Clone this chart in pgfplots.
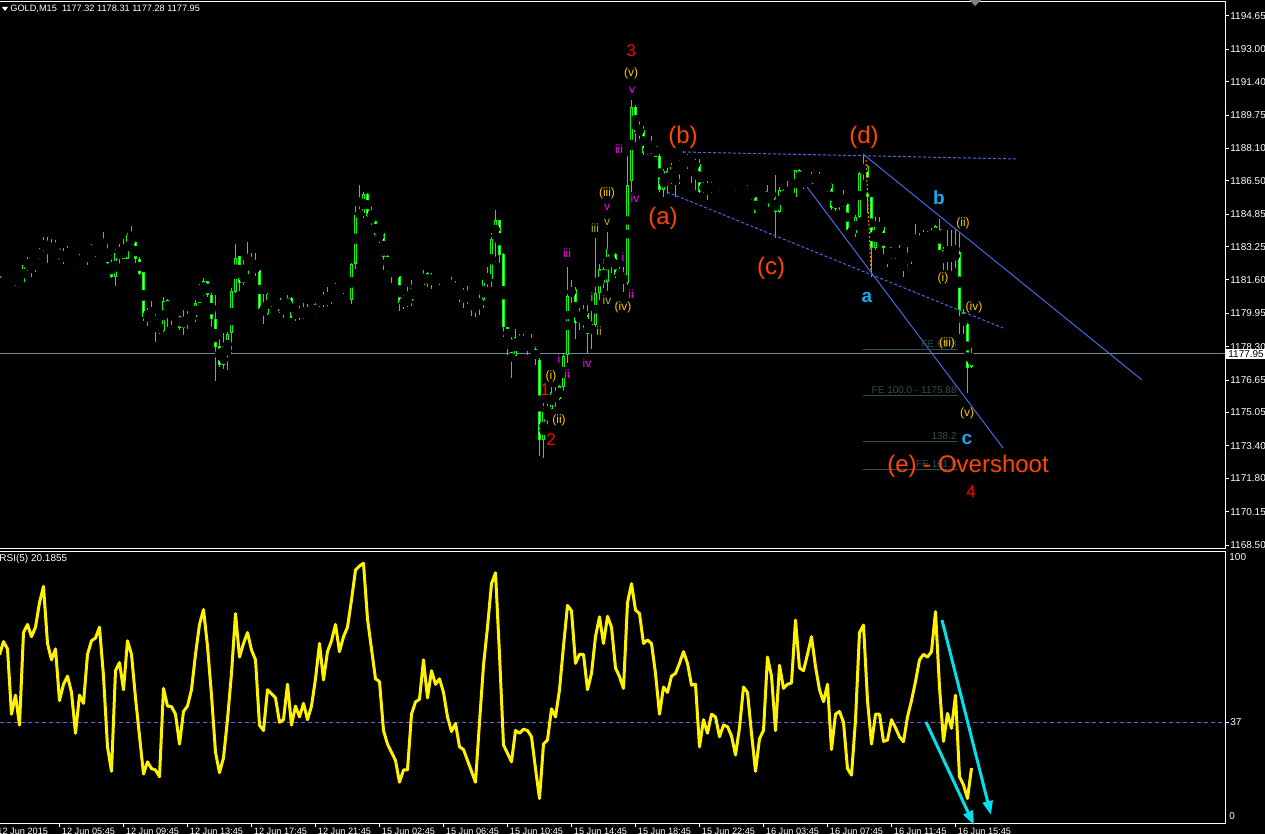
\documentclass[border=0pt]{standalone}
\usepackage{pgfplots}
\pgfplotsset{compat=1.18}
\usepackage{pgfplotstable}
\usepackage{fontspec}
\setmainfont{Liberation Sans}
\usetikzlibrary{arrows.meta}

\definecolor{barlime}{RGB}{0,255,0}
\definecolor{ored}{RGB}{255,69,0}
\definecolor{wgold}{RGB}{255,200,0}
\definecolor{wmag}{RGB}{255,0,255}
\definecolor{wolive}{RGB}{175,175,45}
\definecolor{wcyan}{RGB}{20,170,240}
\definecolor{tline}{RGB}{70,105,230}
\definecolor{fegray}{RGB}{47,79,79}
\definecolor{pline}{RGB}{119,136,153}
\definecolor{rsidash}{RGB}{110,90,230}
\definecolor{arrowc}{RGB}{0,225,235}

% GOLD M15 bars: index, open, high, low, close
\pgfplotstableread{
k o h l c
1 1181.68 1182.00 1181.62 1181.93
2 1181.85 1182.13 1181.80 1182.05
3 1182.02 1182.10 1181.90 1182.00
4 1182.05 1182.10 1181.57 1181.60
5 1181.62 1181.80 1181.30 1181.77
6 1181.68 1181.73 1181.27 1181.47
7 1181.52 1182.34 1181.44 1182.33
8 1182.30 1182.72 1182.06 1182.52
9 1182.52 1182.56 1181.77 1182.41
10 1182.41 1182.79 1182.01 1182.72
11 1182.70 1183.22 1182.62 1183.13
12 1183.09 1183.74 1183.00 1183.53
13 1183.53 1183.74 1182.46 1183.12
14 1183.09 1183.63 1182.84 1182.95
15 1182.95 1183.58 1182.92 1183.12
16 1183.13 1183.22 1182.59 1182.64
17 1182.62 1183.17 1182.39 1182.82
18 1182.82 1183.28 1182.67 1182.94
19 1182.92 1182.95 1182.56 1182.71
20 1182.79 1182.84 1182.34 1182.36
21 1182.36 1182.89 1182.34 1182.72
22 1182.64 1182.72 1182.46 1182.56
23 1182.61 1183.09 1182.34 1182.92
24 1182.95 1183.38 1182.84 1183.13
25 1183.12 1183.28 1182.72 1183.20
26 1183.15 1183.33 1182.92 1183.28
27 1183.26 1183.99 1182.92 1182.95
28 1182.97 1183.38 1182.38 1182.47
29 1182.47 1182.84 1181.72 1181.73
30 1181.73 1183.17 1181.30 1182.94
31 1182.86 1183.38 1182.34 1183.17
32 1183.20 1183.63 1182.66 1182.66
33 1182.66 1183.94 1182.66 1183.81
34 1183.76 1184.29 1183.28 1183.45
35 1183.48 1183.51 1182.46 1182.66
36 1182.67 1182.72 1181.85 1181.91
37 1181.98 1182.01 1179.59 1179.79
38 1179.79 1180.20 1179.33 1180.00
39 1179.99 1180.56 1179.54 1179.54
40 1179.56 1179.95 1178.55 1179.53
41 1179.41 1179.49 1178.93 1179.10
42 1179.10 1180.78 1179.05 1180.56
43 1180.61 1180.68 1179.29 1180.07
44 1180.12 1180.25 1179.38 1180.04
45 1180.05 1180.20 1179.79 1179.84
46 1179.85 1179.92 1179.16 1179.24
47 1179.24 1180.15 1178.88 1179.72
48 1179.74 1180.07 1179.16 1179.69
49 1179.69 1179.95 1179.46 1179.87
50 1179.79 1180.65 1179.54 1180.45
51 1180.48 1181.39 1180.45 1180.99
52 1180.99 1181.68 1180.66 1181.55
53 1181.54 1181.55 1180.78 1180.86
54 1180.86 1180.94 1179.29 1179.66
55 1179.66 1180.86 1176.62 1178.27
56 1178.34 1178.68 1177.32 1177.43
57 1177.43 1178.98 1177.20 1177.93
58 1177.93 1179.03 1177.15 1178.93
59 1178.96 1181.19 1177.94 1181.04
60 1181.04 1183.38 1180.94 1182.72
61 1182.79 1182.79 1181.07 1181.47
62 1181.47 1182.59 1181.35 1181.93
63 1181.90 1183.48 1181.90 1182.69
64 1182.69 1182.94 1182.10 1182.26
65 1182.28 1182.94 1181.80 1182.06
66 1182.10 1182.13 1180.12 1180.18
67 1180.22 1180.91 1179.43 1179.92
68 1179.92 1180.98 1179.87 1180.91
69 1180.86 1180.98 1180.28 1180.78
70 1180.78 1180.91 1180.45 1180.61
71 1180.70 1180.78 1179.95 1180.09
72 1180.09 1180.48 1179.74 1180.18
73 1180.18 1180.86 1180.12 1180.71
74 1180.71 1180.75 1179.72 1179.76
75 1179.87 1180.20 1179.59 1180.12
76 1180.10 1180.32 1179.62 1179.84
77 1179.84 1180.45 1179.67 1180.05
78 1180.07 1180.41 1179.69 1179.72
79 1179.74 1180.04 1179.59 1179.92
80 1179.92 1180.45 1179.87 1180.40
81 1180.40 1180.81 1180.28 1180.81
82 1180.81 1181.01 1180.28 1180.40
83 1180.37 1181.27 1180.32 1180.81
84 1180.81 1181.24 1180.45 1180.99
85 1180.99 1181.44 1180.91 1181.35
86 1181.32 1181.35 1180.91 1181.11
87 1181.11 1181.44 1180.94 1181.35
88 1181.30 1181.60 1181.27 1181.52
89 1180.64 1182.46 1180.41 1182.42
90 1182.42 1185.26 1182.13 1184.81
91 1184.85 1186.30 1184.65 1184.90
92 1184.90 1185.97 1184.65 1185.88
93 1185.88 1185.92 1184.73 1184.78
94 1184.81 1185.36 1184.32 1184.48
95 1184.52 1184.57 1183.71 1183.82
96 1183.90 1183.99 1183.45 1183.94
97 1183.91 1183.94 1182.09 1182.75
98 1182.79 1182.84 1181.96 1182.26
99 1182.29 1182.46 1181.47 1182.01
100 1182.01 1182.18 1181.63 1181.73
101 1181.80 1181.85 1180.08 1180.45
102 1180.41 1180.86 1180.15 1180.61
103 1180.45 1181.27 1180.28 1180.64
104 1180.58 1181.63 1180.33 1181.19
105 1181.14 1181.52 1181.07 1181.40
106 1181.40 1181.52 1181.27 1181.32
107 1181.35 1182.13 1181.30 1181.93
108 1181.93 1182.01 1181.27 1181.40
109 1181.44 1181.96 1181.19 1181.85
110 1181.85 1181.93 1181.57 1181.63
111 1181.66 1181.93 1181.38 1181.76
112 1181.76 1181.85 1181.44 1181.57
113 1181.63 1181.73 1181.27 1181.35
114 1181.40 1181.73 1181.07 1181.14
115 1181.14 1181.57 1180.86 1181.24
116 1181.19 1181.30 1180.53 1180.86
117 1180.86 1181.19 1180.20 1180.91
118 1180.94 1181.30 1180.45 1180.74
119 1180.74 1180.86 1179.82 1180.45
120 1180.48 1180.64 1179.79 1180.33
121 1180.28 1181.11 1179.87 1180.64
122 1180.64 1181.68 1180.20 1181.60
123 1181.60 1182.23 1181.24 1181.63
124 1181.68 1183.91 1181.24 1183.66
125 1183.66 1185.06 1182.51 1184.57
126 1184.57 1184.60 1182.46 1182.84
127 1182.87 1182.92 1178.80 1179.29
128 1179.26 1179.29 1177.89 1178.67
129 1178.67 1178.80 1176.79 1177.89
130 1177.84 1179.21 1177.84 1178.76
131 1178.76 1178.93 1178.34 1178.50
132 1178.50 1178.96 1178.31 1178.67
133 1178.68 1178.76 1177.89 1178.58
134 1178.60 1178.93 1178.14 1178.17
135 1178.17 1178.44 1177.40 1177.68
136 1177.68 1177.73 1172.90 1173.69
137 1173.69 1175.50 1172.80 1175.09
138 1175.09 1175.47 1174.27 1175.21
139 1175.21 1176.33 1175.14 1176.08
140 1176.08 1176.33 1175.34 1175.70
141 1175.70 1176.41 1175.67 1176.36
142 1176.33 1177.97 1176.00 1177.84
143 1177.89 1182.23 1177.48 1180.81
144 1180.81 1181.63 1180.45 1181.19
145 1181.14 1181.27 1178.67 1179.46
146 1179.46 1180.36 1179.13 1179.92
147 1179.92 1180.36 1179.13 1179.98
148 1179.98 1180.36 1178.01 1178.96
149 1178.93 1180.12 1178.17 1179.42
150 1179.37 1183.71 1179.29 1180.97
151 1180.94 1182.39 1180.61 1182.13
152 1182.13 1182.62 1181.19 1181.47
153 1181.52 1183.99 1181.07 1183.16
154 1183.16 1183.28 1181.93 1182.95
155 1182.92 1182.95 1181.73 1181.85
156 1181.85 1182.26 1181.60 1181.90
157 1181.88 1182.26 1181.02 1181.44
158 1181.44 1187.73 1181.35 1186.30
159 1186.51 1190.50 1185.97 1190.14
160 1190.14 1190.25 1188.22 1188.93
161 1188.93 1189.54 1188.52 1189.01
162 1189.01 1189.21 1187.78 1187.89
163 1187.89 1188.27 1187.78 1188.22
164 1188.22 1188.72 1187.83 1188.24
165 1188.22 1188.32 1187.66 1187.70
166 1187.73 1187.86 1185.97 1186.05
167 1186.05 1187.07 1185.72 1186.99
168 1186.99 1187.12 1185.85 1186.41
169 1186.41 1187.37 1186.35 1187.20
170 1187.20 1187.33 1185.69 1187.17
171 1187.12 1187.73 1186.38 1187.45
172 1187.40 1187.99 1187.37 1187.83
173 1187.78 1187.86 1187.12 1187.37
174 1187.37 1187.56 1186.38 1187.20
175 1187.20 1187.61 1186.04 1187.40
176 1187.33 1187.61 1185.92 1185.97
177 1185.97 1186.46 1185.92 1186.35
178 1186.35 1186.51 1185.55 1185.97
179 1185.97 1186.46 1185.92 1186.35
180 1186.30 1186.38 1186.05 1186.21
181 1185.92 1186.05 1185.59 1185.64
182 1185.85 1186.13 1185.75 1186.05
183 1185.97 1186.08 1185.80 1185.85
184 1185.85 1186.08 1185.80 1186.05
185 1185.80 1186.04 1185.52 1185.55
186 1185.59 1185.80 1185.47 1185.75
187 1185.72 1186.05 1185.64 1186.00
188 1186.00 1186.30 1185.80 1185.92
189 1185.97 1186.05 1185.59 1185.69
190 1185.69 1185.72 1184.90 1184.93
191 1184.93 1185.31 1184.90 1185.19
192 1185.19 1185.31 1185.14 1185.24
193 1185.22 1186.30 1185.19 1185.97
194 1185.97 1186.08 1185.64 1185.69
195 1185.72 1186.79 1183.71 1184.98
196 1184.98 1186.21 1184.93 1186.08
197 1186.05 1186.13 1185.47 1185.55
198 1185.59 1186.49 1185.52 1185.69
199 1185.69 1185.97 1185.55 1185.59
200 1185.69 1187.07 1185.64 1187.04
201 1187.04 1187.12 1186.35 1186.46
202 1186.46 1186.67 1186.13 1186.38
203 1186.35 1186.57 1186.21 1186.51
204 1186.38 1186.95 1186.30 1186.87
205 1186.87 1186.95 1186.54 1186.63
206 1186.63 1186.95 1186.30 1186.35
207 1186.38 1186.54 1186.05 1186.18
208 1186.18 1186.41 1185.97 1186.38
209 1186.35 1186.41 1185.06 1185.14
210 1185.14 1185.75 1185.03 1185.64
211 1185.64 1185.75 1185.09 1185.69
212 1185.64 1186.04 1185.19 1185.31
213 1185.36 1185.39 1184.04 1184.07
214 1184.07 1184.24 1183.82 1183.91
215 1183.91 1184.81 1183.74 1184.70
216 1184.70 1186.95 1184.65 1186.87
217 1186.87 1187.78 1186.46 1187.23
218 1187.23 1187.28 1184.90 1185.69
219 1185.69 1185.72 1181.76 1183.17
220 1183.17 1184.70 1183.08 1184.20
221 1184.20 1184.70 1183.82 1184.07
222 1184.24 1184.27 1182.75 1183.17
223 1182.80 1182.95 1182.26 1182.75
224 1182.75 1183.25 1182.59 1183.22
225 1183.22 1183.25 1182.67 1182.92
226 1182.92 1183.33 1182.59 1182.62
227 1182.62 1182.79 1181.76 1182.42
228 1182.46 1183.22 1182.18 1182.75
229 1182.75 1183.08 1182.42 1183.00
230 1183.00 1184.37 1182.92 1183.33
231 1183.28 1183.94 1183.08 1183.58
232 1183.58 1184.10 1183.41 1183.69
233 1183.69 1184.04 1183.49 1183.61
234 1183.61 1184.15 1183.41 1183.71
235 1183.66 1184.32 1183.58 1184.27
236 1184.15 1184.65 1183.08 1183.12
237 1183.08 1183.22 1182.09 1182.51
238 1182.51 1184.07 1182.09 1182.92
239 1182.92 1184.07 1182.06 1182.55
240 1182.59 1184.07 1182.18 1183.00
241 1183.00 1183.91 1178.96 1180.12
242 1180.03 1180.15 1178.96 1179.42
243 1179.42 1179.62 1176.03 1177.28
244 1177.32 1178.31 1177.28 1177.95
}\candles

% RSI(5) per bar
\pgfplotstableread{
k r
1 61.8
2 66.7
3 64
4 40
5 47
6 36
7 70
8 73
9 68.5
10 72
11 81
12 87
13 66
14 60
15 64
16 45
17 51
18 54
19 48
20 33
21 47
22 44
23 62
24 67
25 68
26 72
27 54
28 28
29 19
30 56
31 59
32 49
33 67
34 62
35 46
36 32
37 18
38 22.5
39 20
40 19.5
41 17
42 49.5
43 43
44 42.8
45 40
46 29
47 41
48 43
49 49
50 62
51 73
52 78.5
53 65
54 47
55 26
56 18.5
57 24
58 38
59 55
60 77
61 61
62 66
63 70
64 63.6
65 60
66 36
67 34
68 49
69 47.5
70 46
71 37
72 38
73 51
74 36
75 43
76 39
77 44
78 38
79 43
80 53
81 66
82 52.6
83 63
84 67
85 73
86 63
87 68.5
88 72
89 82
90 93
91 94.5
92 95.5
93 75
94 64
95 53
96 52
97 34
98 29
99 26
100 23
101 15
102 19.5
103 19.5
104 40
105 44.5
106 45.5
107 60
108 46
109 56
110 51
111 53
112 48
113 39
114 33.6
115 36.6
116 28
117 27
118 23
119 19
120 15
121 37
122 58
123 72
124 88
125 92
126 62
127 28.7
128 25.6
129 22.5
130 34
131 33
132 34.5
133 34
134 31.7
135 20
136 9
137 29
138 30.5
139 42
140 39
141 49
142 65
143 80
144 78
145 58.7
146 62
147 62
148 49
149 55
150 68.5
151 75.8
152 66
153 76
154 72
155 57
156 53.8
157 49.5
158 81
159 88
160 78.3
161 77
162 66
163 67.3
164 66
165 55
166 40
167 50
168 48
169 54
170 55
171 58.7
172 63
173 58.7
174 50.7
175 51
176 28
177 38
178 33
179 40
180 39
181 31.7
182 36
183 35.4
184 32
185 25
186 35
187 50
188 48
189 33
190 19
191 31
192 34
193 61
194 54
195 34
196 58
197 49.5
198 51
199 51.5
200 74.6
201 57
202 56
203 62
204 68.5
205 57.5
206 49
207 44.6
208 51
209 27
210 40
211 41
212 37
213 20
214 17.6
215 37.9
216 70
217 72.8
218 45
219 29
220 40
221 40
222 30
223 30.5
224 38
225 35
226 31.7
227 29.9
228 39
229 45
230 52
231 60
232 62
233 61
234 63
235 77.7
236 50
237 30
238 40.3
239 34.8
240 47
241 17
242 14
243 9
244 20.2
}\rsi

\newcommand{\sm}{\fontsize{5}{6}\selectfont}
\newcommand{\xs}{\fontsize{4.6}{5.5}\selectfont}

\begin{document}
\begin{tikzpicture}[x=0.5pt,y=-0.5pt]
\fill[black] (0,0) rectangle (1265,834);
\useasboundingbox (0,0) rectangle (1265,834);

% ---------- price panel ----------
\begin{axis}[at={(0pt,-274pt)}, anchor=south west, scale only axis,
  width=612.5pt, height=273pt,
  xmin=1.125, xmax=307.375, ymin=1168.352, ymax=1195.342,
  axis line style={draw=none}, xtick=\empty, ytick pos=right,
  ytick={1194.65,1193.00,1191.40,1189.75,1188.10,1186.50,1184.85,1183.25,1181.60,1179.95,1178.30,1176.65,1175.05,1173.40,1171.80,1170.15,1168.50},
  yticklabels={1194.65,1193.00,1191.40,1189.75,1188.10,1186.50,1184.85,1183.25,1181.60,1179.95,1178.30,1176.65,1175.05,1173.40,1171.80,1170.15,1168.50},
  tick align=outside, major tick length=2pt, tick style={white, line width=0.5pt},
  yticklabel style={font=\sm, text=white, inner sep=0pt, xshift=0.5pt}]
\addplot[pline, line width=0.5pt, forget plot] coordinates {(1.125,1177.95) (307.375,1177.95)};
% wicks
\addplot[only marks, mark=none, forget plot, error bars/.cd, y dir=both, y explicit, error mark=none,
  error bar style={draw=barlime, line width=0.5pt}]
  table[x=k, y expr={(\thisrow{h}+\thisrow{l})/2}, y error expr={(\thisrow{h}-\thisrow{l})/2}] {\candles};
% bodies
\addplot[only marks, mark=none, forget plot, error bars/.cd, y dir=both, y explicit, error mark=none,
  error bar style={draw=barlime, line width=1.5pt}]
  table[x=k, y expr={(\thisrow{o}+\thisrow{c})/2}, y error expr={max(abs(\thisrow{o}-\thisrow{c})/2,0.025)}] {\candles};
% bull candles: black inside
\addplot[only marks, mark=none, forget plot, error bars/.cd, y dir=both, y explicit, error mark=none,
  error bar style={draw=black, line width=0.5pt}]
  table[x=k, y expr={(\thisrow{o}+\thisrow{c})/2}, y error expr={(\thisrow{c}>\thisrow{o})*max(abs(\thisrow{o}-\thisrow{c})/2-0.05,0)}] {\candles};
% bear candles: white inside
\addplot[only marks, mark=none, forget plot, error bars/.cd, y dir=both, y explicit, error mark=none,
  error bar style={draw=white, line width=0.5pt}]
  table[x=k, y expr={(\thisrow{o}+\thisrow{c})/2}, y error expr={(\thisrow{c}<\thisrow{o})*max(abs(\thisrow{o}-\thisrow{c})/2-0.05,0)}] {\candles};
\end{axis}

% ---------- RSI panel ----------
\begin{axis}[at={(0pt,-411.5pt)}, anchor=south west, scale only axis,
  width=612.5pt, height=136pt,
  xmin=1.125, xmax=307.375, ymin=0, ymax=100,
  axis line style={draw=none},
  xtick pos=bottom, ytick pos=right,
  xtick={16,32,48,64,80,96,112,128,144,160,176,192,208,224,240},
  xticklabels={12 Jun 05:45,12 Jun 09:45,12 Jun 13:45,12 Jun 17:45,12 Jun 21:45,15 Jun 02:45,15 Jun 06:45,15 Jun 10:45,15 Jun 14:45,15 Jun 18:45,15 Jun 22:45,16 Jun 03:45,16 Jun 07:45,16 Jun 11:45,16 Jun 15:45},
  ytick={37}, yticklabels={37},
  tick align=outside, major tick length=2pt, tick style={white, line width=0.5pt},
  xticklabel style={font=\xs, text=white, inner sep=0pt, anchor=north west, xshift=1pt, yshift=-0.5pt},
  yticklabel style={font=\sm, text=white, inner sep=0pt, xshift=0.5pt}]
\addplot[rsidash, line width=0.5pt, dash pattern=on 2pt off 1.5pt, forget plot] coordinates {(1.125,37) (307.375,37)};
\addplot[yellow, line width=1.5pt, line join=round, mark=none] table[x=k, y=r] {\rsi};
\end{axis}

% frames
\draw[white, line width=0.5pt] (-2,1.5) -- (1225.5,1.5) -- (1225.5,548) -- (-2,548);
\draw[white, line width=0.5pt] (-2,551) -- (1225.5,551) -- (1225.5,823) -- (-2,823);
\draw[white, line width=0.5pt] (-4.5,823) -- (-4.5,827);
\node[anchor=north west, inner sep=0pt, text=white, font=\xs] at (-3,828) {12 Jun 2015};

% header and labels
\fill[white] (2,7) -- (8,7) -- (5,11) -- cycle;
\node[anchor=west, inner sep=0pt, text=white, font=\xs] at (10,9) {GOLD,M15\ \ 1177.32 1178.31 1177.28 1177.95};
\fill[gray] (969,0) -- (981,0) -- (975,6) -- cycle;
\node[anchor=west, inner sep=0pt, text=white, font=\sm] at (-1,559) {RSI(5) 20.1855};
\node[anchor=west, inner sep=0pt, text=white, font=\sm] at (1229,557) {100};
\node[anchor=west, inner sep=0pt, text=white, font=\sm] at (1229,816) {0};
\node[anchor=west, fill=white, text=black, inner xsep=1pt, inner ysep=0.6pt, font=\sm] at (1226,354) {1177.95};

% trend lines
\draw[tline, line width=0.5pt, dash pattern=on 1.5pt off 1pt] (683,152) -- (1018,159);
\draw[tline, line width=0.5pt, dash pattern=on 1.5pt off 1pt] (667,192) -- (1003,328);
\draw[tline, line width=0.5pt] (807,187) -- (1003,448);
\draw[tline, line width=0.5pt] (863,154) -- (1142,380);
\draw[orange, line width=0.5pt, dash pattern=on 1pt off 1pt] (866,160) -- (871,272);

% Fibonacci expansion levels
\foreach \yy in {350,396,442,470} \draw[fegray, line width=0.5pt] (863,\yy) -- (958,\yy);
\node[anchor=south east, inner sep=0pt, text=fegray, font=\sm] at (957,348) {FE 61.8};
\node[anchor=south east, inner sep=0pt, text=fegray, font=\sm] at (957,394) {FE 100.0 - 1175.88};
\node[anchor=south east, inner sep=0pt, text=fegray, font=\sm] at (957,440) {138.2};
\node[anchor=south east, inner sep=0pt, text=fegray, font=\sm] at (957,468) {FE 161.8};

% wave labels
\tikzset{wl/.style={inner sep=0pt, font=\fontsize{6}{7}\selectfont}}
\node[wl, text=red, font=\fontsize{8.5}{10}\selectfont] at (631,51) {3};
\node[wl, text=red, font=\fontsize{8.5}{10}\selectfont] at (545,390) {1};
\node[wl, text=red, font=\fontsize{8.5}{10}\selectfont] at (551,440) {2};
\node[wl, text=red, font=\fontsize{8.5}{10}\selectfont] at (971,492) {4};
\node[wl, text=wgold] at (631,73) {(v)};
\node[wl, text=wgold] at (607,193) {(iii)};
\node[wl, text=wgold] at (623,307) {(iv)};
\node[wl, text=wgold] at (551,376) {(i)};
\node[wl, text=wgold] at (559,420) {(ii)};
\node[wl, text=wgold] at (963,223) {(ii)};
\node[wl, text=wgold] at (943,278) {(i)};
\node[wl, text=wgold] at (974,307) {(iv)};
\node[wl, text=wgold] at (947,343) {(iii)};
\node[wl, text=wgold] at (967,413) {(v)};
\node[wl, text=wmag] at (632,90) {v};
\node[wl, text=wmag] at (619,149) {iii};
\node[wl, text=wmag] at (635,198) {iv};
\node[wl, text=wmag] at (607,207) {v};
\node[wl, text=wmag] at (567,253) {iii};
\node[wl, text=wmag] at (623,257) {i};
\node[wl, text=wmag] at (631,294) {ii};
\node[wl, text=wmag] at (587,363) {iv};
\node[wl, text=wmag] at (559,359) {i};
\node[wl, text=wmag] at (567,374) {ii};
\node[wl, text=wolive] at (607,222) {v};
\node[wl, text=wolive] at (595,228) {iii};
\node[wl, text=wolive] at (607,300) {iv};
\node[wl, text=wolive] at (592,297) {i};
\node[wl, text=wolive] at (599,331) {ii};
\tikzset{bl/.style={inner sep=0pt, text=ored, font=\fontsize{12}{14}\selectfont}}
\node[bl] at (663,218) {(a)};
\node[bl] at (683,137) {(b)};
\node[bl] at (771,268) {(c)};
\node[bl] at (864,137) {(d)};
\node[bl, anchor=west] at (887,466) {(e) - Overshoot};
\tikzset{cl/.style={inner sep=0pt, text=wcyan, font=\fontsize{9.5}{11}\selectfont\bfseries}}
\node[cl] at (867,297) {a};
\node[cl] at (939,198) {b};
\node[cl] at (967,439) {c};

% RSI divergence arrows
\draw[arrowc, line width=1.5pt, -{Triangle[length=7pt,width=5pt]}] (942,620) -- (991,815);
\draw[arrowc, line width=1.5pt, -{Triangle[length=7pt,width=5pt]}] (926,722) -- (974,825);
\end{tikzpicture}
\end{document}
